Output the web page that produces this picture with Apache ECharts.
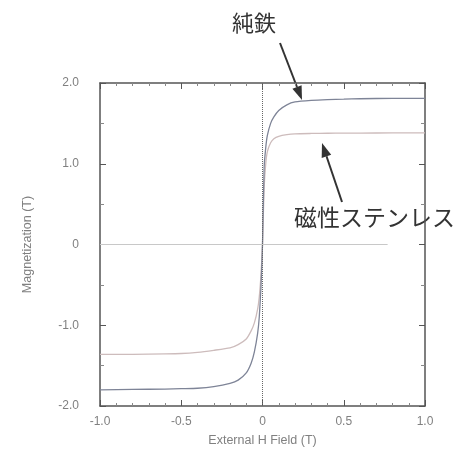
<!DOCTYPE html>
<html><head><meta charset="utf-8">
<script src="https://cdn.jsdelivr.net/npm/echarts@6/dist/echarts.min.js"></script>
<style>html,body{margin:0;padding:0;background:#fff}#c{width:455px;height:452px}</style>
</head><body><div id="c"></div>
<script>
const fieldH = [-1.0,-0.8,-0.6,-0.5,-0.4,-0.3,-0.2,-0.15,-0.1,-0.07,-0.05,-0.03,-0.02,-0.01,0,0.01,0.02,0.03,0.05,0.07,0.1,0.15,0.2,0.3,0.4,0.5,0.6,0.8,1.0];
const ironM = [-1.80,-1.795,-1.79,-1.785,-1.78,-1.76,-1.72,-1.68,-1.59,-1.47,-1.33,-1.1,-0.9,-0.55,0,0.95,1.2,1.35,1.5,1.58,1.66,1.73,1.765,1.785,1.795,1.80,1.805,1.81,1.81];
const stainlessM = [-1.36,-1.36,-1.355,-1.35,-1.335,-1.31,-1.28,-1.24,-1.17,-1.07,-0.97,-0.8,-0.65,-0.4,0,0.7,1.0,1.15,1.26,1.31,1.34,1.36,1.37,1.375,1.378,1.38,1.38,1.382,1.383];
const xTicks = [-1.0,-0.5,0,0.5,1.0];
const yTicks = [-2.0,-1.0,0,1.0,2.0];
const ironLabel = '純鉄';
const stainlessLabel = '磁性ステンレス';

const fmt = v => (Math.abs(v) < 1e-9 ? '0' : v.toFixed(1));
const axisCol = '#555';
const labelCol = '#808080';
const font = 'Liberation Sans, Arial, sans-serif';
const jpFont = 'Noto Sans CJK JP, sans-serif';

const chart = echarts.init(document.getElementById('c'));
const baseX = {
  type:'value', min:xTicks[0], max:xTicks[xTicks.length-1], interval:0.5,
  axisLine:{show:true, onZero:false, lineStyle:{color:axisCol, width:1.5}},
  axisTick:{show:true, inside:true, length:6, lineStyle:{color:axisCol}},
  minorTick:{show:true, splitNumber:5, length:3, lineStyle:{color:'#888'}},
  splitLine:{show:false}
};
const baseY = {
  type:'value', min:yTicks[0], max:yTicks[yTicks.length-1], interval:1,
  axisLine:{show:true, onZero:false, lineStyle:{color:axisCol, width:1.5}},
  axisTick:{show:true, inside:true, length:6, lineStyle:{color:axisCol}},
  minorTick:{show:true, splitNumber:2, length:4, lineStyle:{color:'#888'}},
  splitLine:{show:false}
};
chart.setOption({
  animation:false,
  backgroundColor:'#fff',
  grid:{left:100, right:30, top:83, bottom:44},
  xAxis:[
    Object.assign({}, baseX, {position:'bottom',
      axisLabel:{formatter:fmt, color:labelCol, fontSize:12, fontFamily:font, margin:10},
      name:'External H Field (T)', nameLocation:'middle', nameGap:28,
      nameTextStyle:{color:labelCol, fontSize:12.5, fontFamily:font}}),
    Object.assign({}, baseX, {position:'top', axisLabel:{show:false}})
  ],
  yAxis:[
    Object.assign({}, baseY, {position:'left',
      axisLabel:{formatter:fmt, color:labelCol, fontSize:12, fontFamily:font, margin:21},
      name:'Magnetization (T)', nameLocation:'middle', nameGap:66,
      nameTextStyle:{color:labelCol, fontSize:12.5, fontFamily:font}}),
    Object.assign({}, baseY, {position:'right', axisLabel:{show:false}})
  ],
  series:[
    {type:'line', name:ironLabel, data:fieldH.map((h,i)=>[h, ironM[i]]), showSymbol:false, smooth:0.2,
     lineStyle:{color:'#7e8497', width:1.3}, z:3,
     markLine:{silent:true, symbol:'none', label:{show:false},
       data:[{xAxis:0, lineStyle:{color:'#666', type:'dotted', width:1}},
             [{coord:[-1,0], lineStyle:{color:'#c8c8c8', type:'solid', width:1}},{coord:[0.77,0]}]]}},
    {type:'line', name:stainlessLabel, data:fieldH.map((h,i)=>[h, stainlessM[i]]), showSymbol:false, smooth:0.2,
     lineStyle:{color:'#cdbcbc', width:1.3}, z:2}
  ],
  graphic:[
    {type:'text', left:232, top:12, style:{text:ironLabel, fill:'#333', font:'22px '+jpFont}},
    {type:'text', left:294, top:206, style:{text:stainlessLabel, fill:'#333', font:'23px '+jpFont}},
    {type:'line', shape:{x1:280, y1:43, x2:297, y2:87}, style:{stroke:'#333', lineWidth:2}},
    {type:'polygon', shape:{points:[[302,100],[292.4,88.8],[301.6,85.2]]}, style:{fill:'#333'}},
    {type:'line', shape:{x1:342, y1:202, x2:326.5, y2:156.3}, style:{stroke:'#333', lineWidth:2}},
    {type:'polygon', shape:{points:[[322,143],[331.2,154.7],[321.7,157.9]]}, style:{fill:'#333'}}
  ]
});
</script></body></html>
